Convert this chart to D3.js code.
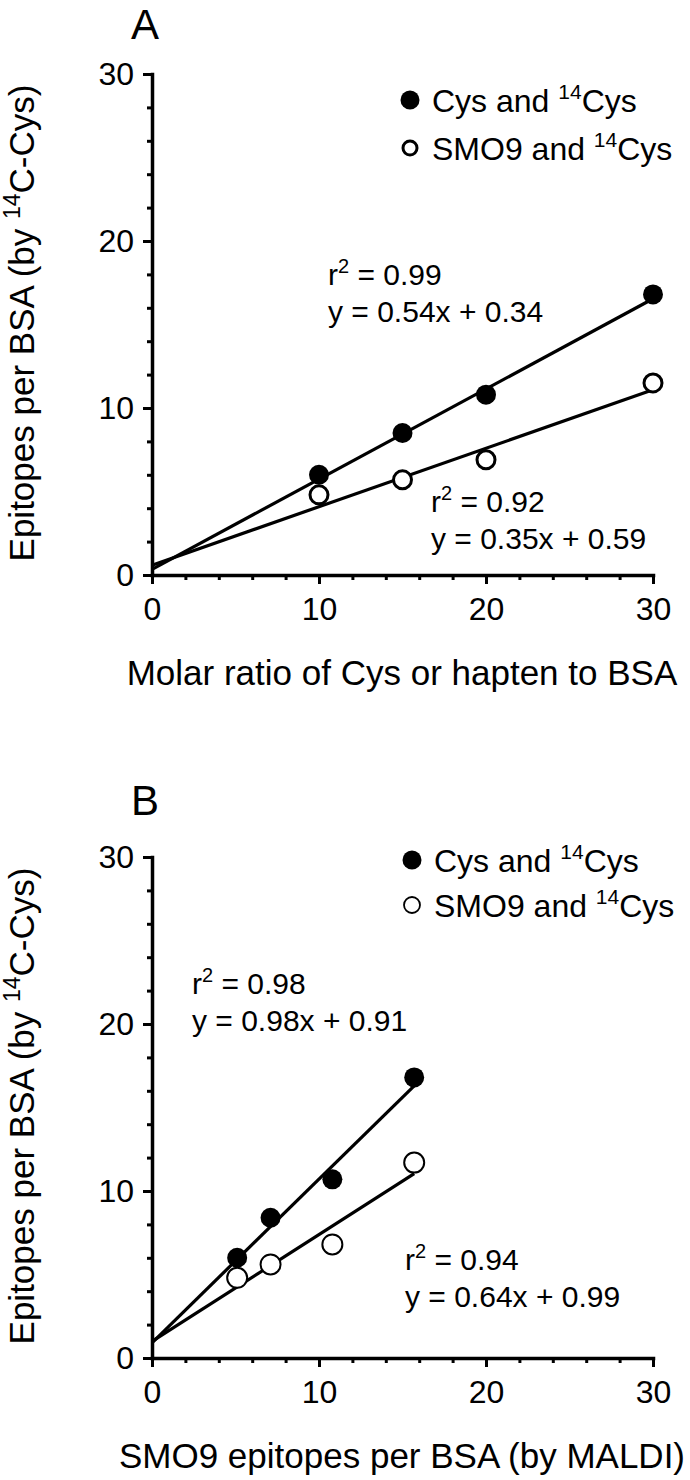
<!DOCTYPE html>
<html><head><meta charset="utf-8">
<script src="https://cdn.jsdelivr.net/npm/d3@7"></script>
<style>
body{margin:0;background:#fff}
svg{display:block}
text{font-family:"Liberation Sans",Arial,Helvetica,sans-serif;fill:#000}
</style>
</head><body>
<svg id="chart" width="690" height="1480"></svg>
<script>
// ---------- data ----------
const xTickValues = [0, 10, 20, 30];
const yTickValues = [0, 10, 20, 30];
const minorTickValues = [2, 4, 6, 8, 12, 14, 16, 18, 22, 24, 26, 28];
const panelLetters = ["A", "B"];
const xTitles = ["Molar ratio of Cys or hapten to BSA", "SMO9 epitopes per BSA (by MALDI)"];
const legendLabels = ["Cys and ", "SMO9 and "];

// Panel A
const aX = [10, 15, 20, 30];
const aCys = [6.0, 8.5, 10.8, 16.8];
const aSMO9 = [4.8, 5.7, 6.9, 11.5];
const aFitX = [0, 30];
const aFitCys = [0.34, 16.54];
const aFitSMO9 = [0.59, 11.09];
const aR2 = ["0.99", "0.92"];
const aEq = ["y = 0.54x + 0.34", "y = 0.35x + 0.59"];

// Panel B
const bX = [5.1, 7.1, 10.8, 15.7];
const bCys = [6.0, 8.4, 10.7, 16.8];
const bSMO9 = [4.8, 5.6, 6.8, 11.7];
const bFitX = [0, 15.7];
const bFitCys = [0.91, 16.30];
const bFitSMO9 = [0.99, 11.04];
const bR2 = ["0.98", "0.94"];
const bEq = ["y = 0.98x + 0.91", "y = 0.64x + 0.99"];

// ---------- layout ----------
const svg = d3.select("#chart");
const panels = [
  {letter: panelLetters[0], xTitle: xTitles[0], y0: 575, xs: aX, cys: aCys, smo: aSMO9,
   fitX: aFitX, fitCys: aFitCys, fitSmo: aFitSMO9, r2: aR2, eq: aEq,
   titleY: 39, legend: [[410, 100], [410, 148]], legendOpenR: 7, legendOpenW: 3,
   openW: 3, openR: 9,
   ann: [[328, 285], [431, 512]]},
  {letter: panelLetters[1], xTitle: xTitles[1], y0: 1358, xs: bX, cys: bCys, smo: bSMO9,
   fitX: bFitX, fitCys: bFitCys, fitSmo: bFitSMO9, r2: bR2, eq: bEq,
   titleY: 815, legend: [[412, 860], [412, 905]], legendOpenR: 8, legendOpenW: 1.8,
   openW: 2, openR: 10,
   ann: [[192, 994], [405, 1270]]}
];

panels.forEach(p => {
  const x = d3.scaleLinear().domain([0, 30]).range([152, 653]);
  const y = d3.scaleLinear().domain([0, 30]).range([p.y0, p.y0 - 501]);
  const g = svg.append("g");

  // panel letter
  g.append("text").attr("x", 145).attr("y", p.titleY).attr("text-anchor", "middle")
    .attr("font-size", 42).text(p.letter);

  // minor ticks
  g.append("g").attr("transform", `translate(0,${p.y0})`)
    .call(d3.axisBottom(x).tickValues(minorTickValues).tickSize(5).tickFormat(""))
    .call(s => s.select(".domain").remove())
    .call(s => s.selectAll("line").attr("stroke-width", 3));
  g.append("g").attr("transform", `translate(152,0)`)
    .call(d3.axisLeft(y).tickValues(minorTickValues).tickSize(5).tickFormat(""))
    .call(s => s.select(".domain").remove())
    .call(s => s.selectAll("line").attr("stroke-width", 3));

  // major axes
  const xa = g.append("g").attr("transform", `translate(0,${p.y0})`)
    .call(d3.axisBottom(x).tickValues(xTickValues).tickSize(9).tickPadding(13).tickSizeOuter(0));
  const ya = g.append("g").attr("transform", `translate(152,0)`)
    .call(d3.axisLeft(y).tickValues(yTickValues).tickSize(9).tickPadding(9).tickSizeOuter(0));
  [xa, ya].forEach(a => {
    a.select(".domain").attr("stroke-width", 3.5).attr("stroke-linecap", "square");
    a.selectAll("line").attr("stroke-width", 3);
    a.selectAll("text").attr("font-size", 32).attr("font-family", "'Liberation Sans',Arial,sans-serif");
  });

  // axis titles
  g.append("text").attr("x", 402).attr("y", p.y0 + 110).attr("text-anchor", "middle")
    .attr("font-size", 35).text(p.xTitle);
  const yl = g.append("text").attr("text-anchor", "middle").attr("font-size", 35)
    .attr("transform", `translate(34,${p.y0 - 252}) rotate(-90)`);
  yl.append("tspan").text("Epitopes per BSA (by ");
  yl.append("tspan").attr("font-size", 23).attr("dy", -14).text("14");
  yl.append("tspan").attr("dy", 14).text("C-Cys)");

  // fit lines
  const line = d3.line().x(d => x(d[0])).y(d => y(d[1]));
  [p.fitCys, p.fitSmo].forEach(f => {
    g.append("path").datum(p.fitX.map((v, i) => [v, f[i]]))
      .attr("d", line).attr("fill", "none").attr("stroke", "#000").attr("stroke-width", 3.2);
  });

  // points
  g.selectAll(null).data(p.xs.map((v, i) => [v, p.smo[i]])).join("circle")
    .attr("cx", d => x(d[0])).attr("cy", d => y(d[1])).attr("r", p.openR)
    .attr("fill", "#fff").attr("stroke", "#000").attr("stroke-width", p.openW);
  g.selectAll(null).data(p.xs.map((v, i) => [v, p.cys[i]])).join("circle")
    .attr("cx", d => x(d[0])).attr("cy", d => y(d[1])).attr("r", 10)
    .attr("fill", "#000");

  // legend
  legendLabels.forEach((lab, i) => {
    const [lx, ly] = p.legend[i];
    if (i === 0) {
      g.append("circle").attr("cx", lx).attr("cy", ly).attr("r", 9.5).attr("fill", "#000");
    } else {
      g.append("circle").attr("cx", lx).attr("cy", ly).attr("r", p.legendOpenR)
        .attr("fill", "#fff").attr("stroke", "#000").attr("stroke-width", p.legendOpenW);
    }
    const t = g.append("text").attr("x", lx + 22).attr("y", ly + 12).attr("font-size", 32);
    t.append("tspan").text(lab);
    t.append("tspan").attr("font-size", 21).attr("dy", -13).text("14");
    t.append("tspan").attr("dy", 13).text("Cys");
  });

  // annotations
  p.ann.forEach((a, i) => {
    const t = g.append("text").attr("x", a[0]).attr("y", a[1]).attr("font-size", 30);
    t.append("tspan").text("r");
    t.append("tspan").attr("font-size", 20).attr("dy", -12).text("2");
    t.append("tspan").attr("dy", 12).text(" = " + p.r2[i]);
    g.append("text").attr("x", a[0]).attr("y", a[1] + 37).attr("font-size", 30).text(p.eq[i]);
  });
});
</script>
</body></html>
